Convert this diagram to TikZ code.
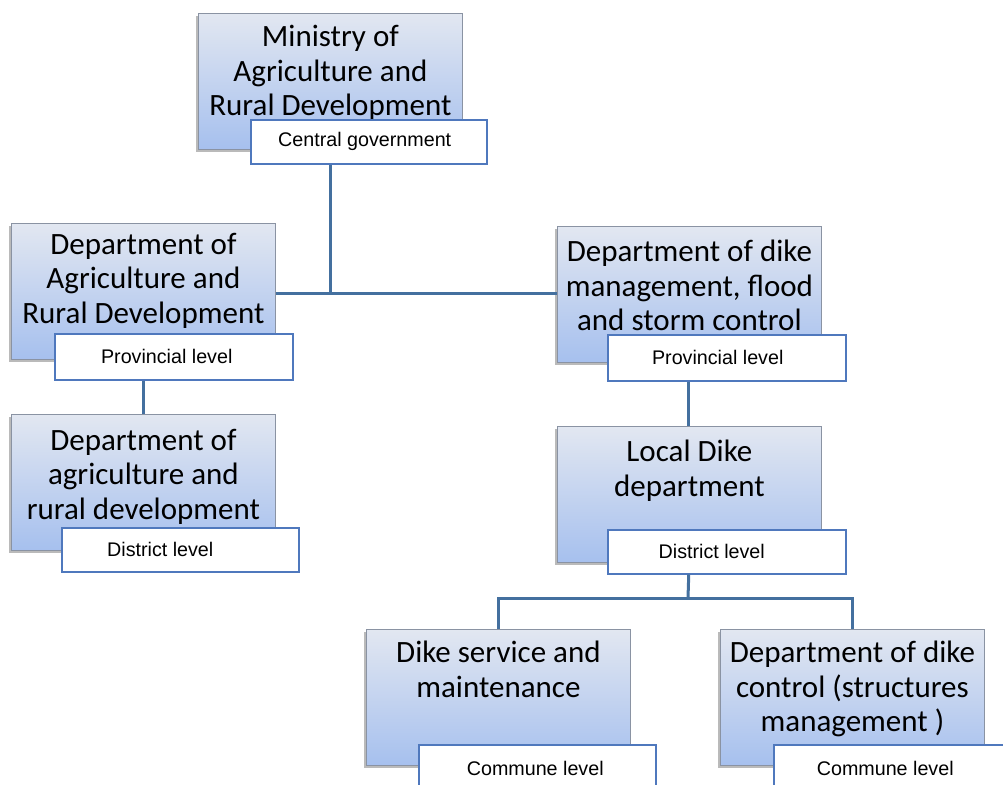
\documentclass[tikz,border=0pt]{standalone}
\usepackage{fontspec}
\setmainfont{Carlito}
\newfontfamily\labfont{Liberation Sans}
\usetikzlibrary{shadows}
\definecolor{topc}{HTML}{E2E7F1}
\definecolor{botc}{HTML}{A6C0EE}
\definecolor{edgec}{HTML}{8A93A3}
\definecolor{linec}{HTML}{44709F}
\definecolor{labc}{HTML}{4F78BD}
\newcommand{\lsh}[1]{\hspace*{#1}}
\tikzset{
  x=1pt, y=-1pt,
  orgbox/.style={draw=edgec, line width=0.8pt, top color=topc, bottom color=botc,
    minimum width=264pt, minimum height=136pt, inner sep=0pt, anchor=north west,
    drop shadow={shadow xshift=-2pt, shadow yshift=-3pt, opacity=0.45, fill=black!60}},
  orgtxt/.style={anchor=north, font=\fontsize{31}{34.5}\selectfont, align=center, inner sep=0pt, text=black},
  levbox/.style={draw=labc, line width=1.5pt, fill=white, minimum height=44pt, inner sep=0pt,
    anchor=north west, font=\labfont\fontsize{19.7}{22}\selectfont},
  conn/.style={draw=linec, line width=3pt},
}
\begin{document}
\begin{tikzpicture}
\useasboundingbox (0,0) rectangle (1003,784);
\coordinate (j1) at (330,293);
\coordinate (j2) at (688,598);
% boxes
\node[orgbox] (min) at (198,13) {};
\node[orgbox] (dap) at (11,223) {};
\node[orgbox] (ddm) at (557,226) {};
\node[orgbox] (dad) at (11,414) {};
\node[orgbox] (ldd) at (557,426) {};
\node[orgbox] (dsm) at (366,629) {};
\node[orgbox] (ddc) at (720,629) {};
% texts
\node[orgtxt] (tmin) at ([yshift=-12pt]min.north) {Ministry of\\Agriculture and\\Rural Development};
\node[orgtxt] (tdap) at ([yshift=-10pt]dap.north) {Department of\\Agriculture and\\Rural Development};
\node[orgtxt] (tddm) at ([yshift=-14pt]ddm.north) {Department of dike\\management, flood\\and storm control};
\node[orgtxt] (tdad) at ([yshift=-15pt]dad.north) {Department of\\agriculture and\\rural development};
\node[orgtxt] (tldd) at ([yshift=-14pt]ldd.north) {Local Dike\\department};
\node[orgtxt] (tdsm) at ([yshift=-12pt]dsm.north) {Dike service and\\maintenance};
\node[orgtxt] (tddc) at ([yshift=-12pt]ddc.north) {Department of dike\\control (structures\\management )};
% level labels
\node[levbox, minimum width=236pt] (lmin) at (250,119) {Central government\lsh{8pt}};
\node[levbox, minimum width=238pt, minimum height=46pt] (ldap) at (54,333) {Provincial level\lsh{14pt}};
\node[levbox, minimum width=238pt, minimum height=46pt] (lddm) at (607,334) {Provincial level\lsh{18pt}};
\node[levbox, minimum width=237pt] (ldad) at (61,527) {District level\lsh{40pt}};
\node[levbox, minimum width=238pt] (lldd) at (607,529) {District level\lsh{30pt}};
\node[levbox, minimum width=237pt, minimum height=48pt] (ldsm) at (418,744) {Commune level\lsh{4pt}};
\node[levbox, minimum width=237pt, minimum height=48pt] (lddc) at (773,744) {Commune level\lsh{14pt}};
% connectors
\draw[conn] (lmin.south -| j1) -- (j1);
\draw[conn] (dap.east |- j1) -- (ddm.west |- j1);
\draw[conn] ([xshift=-30pt]ldap.south) -- ([xshift=-30pt]ldap.south |- dad.north);
\draw[conn] ([xshift=-38pt]lddm.south) -- ([xshift=-38pt]lddm.south |- ldd.north);
\draw[conn] ([xshift=-38pt]lldd.south) -- (j2);
\draw[conn] (dsm.north) |- (j2) -| (ddc.north);
\end{tikzpicture}
\end{document}
